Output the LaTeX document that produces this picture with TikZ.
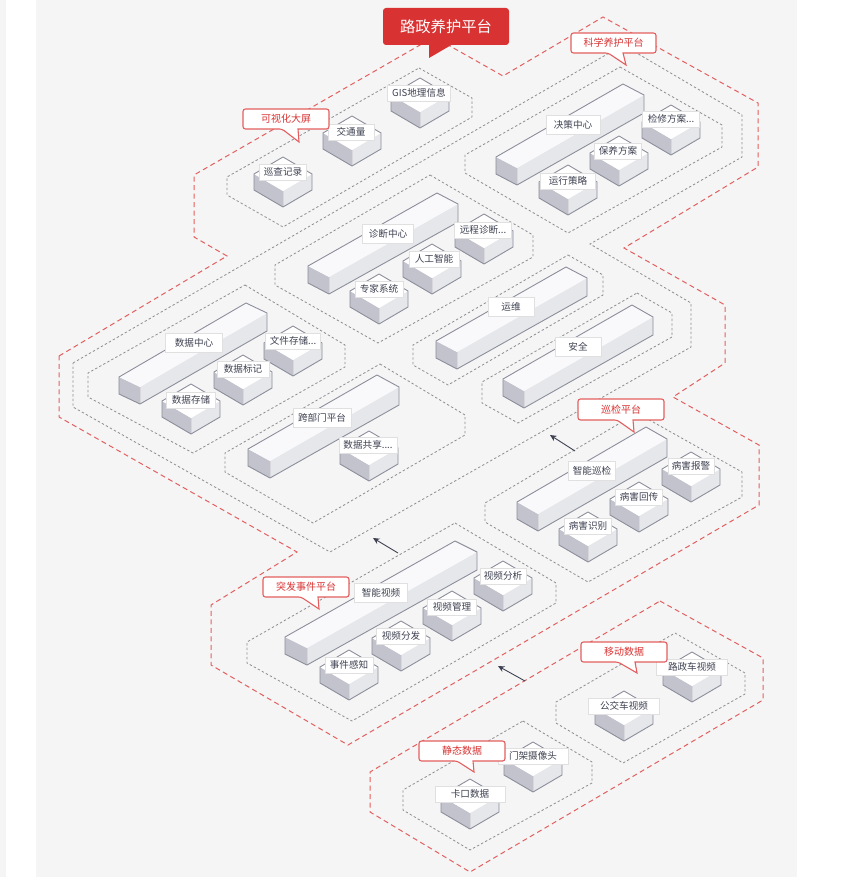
\documentclass[tikz,border=0pt]{standalone}
\usepackage{fontspec}
\setmainfont{Noto Sans CJK SC}
\usetikzlibrary{arrows.meta}
\definecolor{panelgray}{HTML}{F5F5F5}
\definecolor{redline}{HTML}{E35F5F}
\definecolor{titlered}{HTML}{D93232}
\definecolor{grayline}{HTML}{8E8E92}
\definecolor{ink}{HTML}{3F4252}
\definecolor{edgeline}{HTML}{8C8E9B}
\definecolor{faceleft}{HTML}{C2C3CC}
\definecolor{faceright}{HTML}{E6E7EB}
\definecolor{facetop}{HTML}{F9F9FB}
\tikzset{
  reddash/.style={draw=redline,line width=1pt,dash pattern=on 5pt off 3.5pt},
  graydash/.style={draw=grayline,line width=.8pt,dash pattern=on 2.4pt off 2.2pt},
  lbl/.style={draw=black!12,fill=white,line width=.7pt,inner sep=0pt,minimum height=16pt,text=ink,
    font=\fontsize{9.6}{11}\selectfont},
  biglbl/.style={lbl,minimum height=18.5pt},
  calloutshape/.style={draw=redline,fill=white,line width=1.1pt},
  callouttext/.style={text=titlered,inner sep=0pt,font=\fontsize{10}{12}\selectfont},
  flowarrow/.style={draw=ink,line width=.9pt,-{Stealth[length=6.5pt,width=6pt]}},
  boxedge/.style={draw=edgeline,line width=.9pt,line join=round},
  lightedge/.style={draw=edgeline!35,line width=.5pt,line join=round},
}
% small block: name, centre x, apex y, label x, label y, label width, text
\newcommand{\smallblock}[7]{
  \fill[faceleft] (#2-29,#3+17) -- (#2,#3+34) -- (#2,#3+50) -- (#2-29,#3+33) -- cycle;
  \fill[faceright] (#2+29,#3+17) -- (#2,#3+34) -- (#2,#3+50) -- (#2+29,#3+33) -- cycle;
  \fill[white] (#2,#3) -- (#2+29,#3+17) -- (#2,#3+34) -- (#2-29,#3+17) -- cycle;
  \draw[lightedge] (#2,#3+34) -- (#2,#3+50);
  \draw[boxedge] (#2-29,#3+17) -- (#2,#3) -- (#2+29,#3+17) -- (#2+29,#3+33) -- (#2,#3+50) -- (#2-29,#3+33) -- cycle;
  \node[lbl,minimum width=#6pt] (#1) at (#4,#5) {#7};
}
% long block: L, F, R corners of the top face
\newcommand{\longblock}[6]{
  \fill[faceleft] (#1,#2) -- (#3,#4) -- (#3,#4+17) -- (#1,#2+17) -- cycle;
  \fill[faceright] (#3,#4) -- (#5,#6) -- (#5,#6+18) -- (#3,#4+17) -- cycle;
  \fill[facetop] (#1,#2) -- (#3,#4) -- (#5,#6) -- (#1+#5-#3,#2+#6-#4) -- cycle;
  \draw[lightedge] (#3,#4) -- (#3,#4+17);
  \draw[boxedge] (#1,#2) -- (#1+#5-#3,#2+#6-#4) -- (#5,#6) -- (#5,#6+18) -- (#3,#4+17) -- (#1,#2+17) -- cycle;
}
% callout: x1, y1, x2, y2, p1, tipx, tipy, p2, text
\newcommand{\callout}[9]{
  \draw[calloutshape] (#8,#4) [rounded corners=2.5pt] -- (#3,#4) -- (#3,#2) -- (#1,#2) -- (#1,#4) -- (#5,#4) [sharp corners] -- (#6,#7) -- cycle;
  \calloutlabel{#1}{#3}{#2}{#4}{#9}
}
\newcommand{\calloutlabel}[5]{
  \node[callouttext] at ({(#1+#2)/2},{(#3+#4)/2}) {#5};
}
\begin{document}
\begin{tikzpicture}[x=1pt,y=-1pt]
\useasboundingbox (0,0) rectangle (850,877);
\fill[white] (0,0) rectangle (850,877);
\fill[panelgray] (0,0) rectangle (6,877);
\fill[panelgray] (36,0) rectangle (797,877);

% red outlines
\draw[reddash] (59,356) -- (227,256) -- (194,237) -- (194,175) -- (434,37) -- (503,76) -- (603,17) -- (758,103) -- (758,167) -- (624,248) -- (725,305) -- (725,363) -- (673,397) -- (759,445) -- (759,505) -- (348,745) -- (211,665) -- (211,605) -- (297,552) -- (59,417) -- cycle;
\draw[reddash] (660,601) -- (763,658) -- (763,700) -- (470,872) -- (370,812) -- (370,772) -- cycle;

% gray outlines
\draw[graydash] (419,68) -- (472,98) -- (472,117) -- (283,227) -- (227,195) -- (227,177) -- cycle;
\draw[graydash] (73,363) -- (623,45) -- (742,115) -- (742,157) -- (590,244) -- (691,303) -- (691,347) -- (330,552) -- (73,407) -- cycle;
\draw[graydash] (620,67) -- (722,125) -- (722,147) -- (568,233) -- (465,173) -- (465,155) -- cycle;
\draw[graydash] (430,175) -- (533,235) -- (533,257) -- (378,343) -- (275,285) -- (275,265) -- cycle;
\draw[graydash] (568,255) -- (603,275) -- (603,295) -- (448,385) -- (413,365) -- (413,345) -- cycle;
\draw[graydash] (637,293) -- (672,313) -- (672,337) -- (518,423) -- (482,403) -- (482,382) -- cycle;
\draw[graydash] (245,285) -- (345,345) -- (345,367) -- (193,453) -- (88,397) -- (88,373) -- cycle;
\draw[graydash] (380,364) -- (465,415) -- (465,435) -- (313,523) -- (225,472) -- (225,453) -- cycle;
\draw[graydash] (637,413) -- (742,472) -- (742,497) -- (588,582) -- (485,522) -- (485,503) -- cycle;
\draw[graydash] (455,523) -- (556,583) -- (556,603) -- (352,721) -- (247,663) -- (247,642) -- cycle;
\draw[graydash] (675,633) -- (745,673) -- (745,694) -- (623,763) -- (556,723) -- (556,702) -- cycle;
\draw[graydash] (523,721) -- (592,762) -- (592,783) -- (470,850) -- (403,810) -- (403,790) -- cycle;

% long blocks
\longblock{496}{157}{517}{168}{644}{95}
\node[biglbl,minimum width=54pt] (juece) at (573,125) {决策中心};
\longblock{308}{266}{329}{277}{458}{204}
\node[biglbl,minimum width=51pt] (zhenduan) at (388,234) {诊断中心};
\longblock{119}{377}{140}{387}{267}{313}
\node[biglbl,minimum width=57pt] (shujuzx) at (194,343) {数据中心};
\longblock{436}{341}{457}{352}{587}{278}
\node[biglbl,minimum width=46pt] (yunwei) at (511,307) {运维};
\longblock{503}{379}{524}{391}{653}{317}
\node[biglbl,minimum width=46pt] (anquan) at (578,347) {安全};
\longblock{248}{449}{270}{461}{399}{387}
\node[biglbl,minimum width=58pt] (kabumen) at (322,418) {跨部门平台};
\longblock{517}{502}{538}{514}{667}{439}
\node[biglbl,minimum width=47pt] (zhineng) at (592,471) {智能巡检};
\longblock{285}{637}{307}{648}{477}{552}
\node[biglbl,minimum width=53pt] (shipin) at (381,593) {智能视频};

% small blocks
\smallblock{xuncha}{283}{157}{283}{172}{47}{巡查记录}
\smallblock{jiaotong}{352}{116}{351}{132}{46}{交通量}
\smallblock{gis}{420}{78}{419}{93}{63}{GIS地理信息}
\smallblock{jianxiu}{671}{105}{671}{119}{57}{检修方案...}
\smallblock{baoyang}{619}{136}{618}{151}{47}{保养方案}
\smallblock{yunxing}{568}{165}{568}{181}{55}{运行策略}
\smallblock{yuancheng}{484}{214}{483}{230}{57}{远程诊断...}
\smallblock{rengong}{432}{244}{434}{259}{50}{人工智能}
\smallblock{zhuanjia}{379}{274}{379}{289}{48}{专家系统}
\smallblock{wenjian}{293}{326}{293}{341}{55}{文件存储...}
\smallblock{biaoji}{243}{355}{243}{369}{52}{数据标记}
\smallblock{cunchu}{191}{384}{191}{400}{49}{数据存储}
\smallblock{gongxiang}{369}{431}{368}{445}{58}{数据共享....}
\smallblock{baojing}{691}{452}{691}{466}{46}{病害报警}
\smallblock{huichuan}{639}{482}{639}{497}{47}{病害回传}
\smallblock{shibie}{588}{512}{588}{526}{47}{病害识别}
\smallblock{fenxi}{503}{561}{503}{576}{46}{视频分析}
\smallblock{guanli}{452}{591}{452}{607}{49}{视频管理}
\smallblock{fenfa}{401}{621}{401}{636}{49}{视频分发}
\smallblock{ganzhi}{349}{650}{349}{665}{48}{事件感知}
\smallblock{luzheng}{692}{652}{692}{667}{71}{路政车视频}
\smallblock{gongjiao}{624}{691}{624}{706}{71}{公交车视频}
\smallblock{menjia}{533}{742}{533}{756}{70}{门架摄像头}
\smallblock{kakou}{470}{779}{470}{794}{70}{卡口数据}

% flow arrows
\coordinate (a1s) at (575,451); \coordinate (a1e) at (550,435);
\coordinate (a2s) at (398,553); \coordinate (a2e) at (373,538);
\coordinate (a3s) at (525,681); \coordinate (a3e) at (498,666);
\draw[flowarrow] (a1s) -- (a1e);
\draw[flowarrow] (a2s) -- (a2e);
\draw[flowarrow] (a3s) -- (a3e);

% callouts
\fill[titlered,rounded corners=3pt] (383,8) rectangle (509,45);
\fill[titlered] (429,44) -- (429,58) -- (453,44) -- cycle;
\node[text=white,inner sep=0pt,font=\fontsize{15.3}{18}\selectfont] (title) at (446,27) {路政养护平台};
\callout{243}{109}{329}{129}{282}{299}{142}{298}{可视化大屏}
\callout{571}{33}{656}{53}{608}{626}{65}{623}{科学养护平台}
\callout{578}{399}{664}{420}{617}{634}{432}{633}{巡检平台}
\callout{263}{577}{349}{597}{301}{319}{609}{318}{突发事件平台}
\callout{581}{642}{667}{662}{618}{637}{673}{635}{移动数据}
\callout{419}{741}{505}{761}{457}{474}{772}{473}{静态数据}
\end{tikzpicture}
\end{document}
